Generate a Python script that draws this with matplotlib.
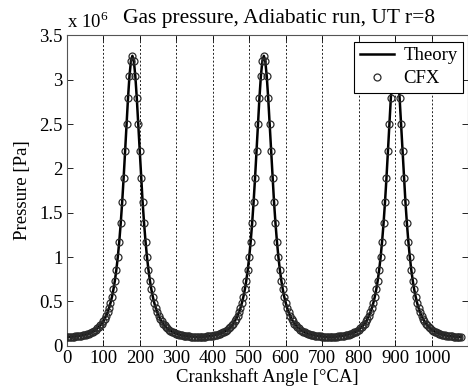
import numpy as np
import matplotlib

matplotlib.use("Agg")
import matplotlib.pyplot as plt

plt.rcParams["font.family"] = ["Liberation Serif", "DejaVu Serif"]
plt.rcParams["mathtext.fontset"] = "custom"
plt.rcParams["mathtext.rm"] = "Liberation Serif"

# crank angle grid of one cycle [deg CA], 4 deg step
cycle_angle = np.arange(0, 360, 4)
# gas pressure over one cycle, units of 1e6 Pa
cycle_pressure = [
    0.100, 0.1001, 0.1005, 0.101, 0.102, 0.103, 0.105, 0.107, 0.109, 0.111,
    0.114, 0.118, 0.122, 0.126, 0.131, 0.137, 0.144, 0.151, 0.160, 0.170,
    0.182, 0.195, 0.211, 0.229, 0.249, 0.274, 0.303, 0.337, 0.377, 0.425,
    0.482, 0.551, 0.634, 0.734, 0.855, 1.000, 1.174, 1.380, 1.620, 1.893,
    2.191, 2.500, 2.795, 3.043, 3.211, 3.270, 3.211, 3.043, 2.795, 2.500,
    2.191, 1.893, 1.620, 1.380, 1.174, 1.000, 0.855, 0.734, 0.634, 0.551,
    0.482, 0.425, 0.377, 0.337, 0.303, 0.274, 0.249, 0.229, 0.211, 0.195,
    0.182, 0.170, 0.160, 0.151, 0.144, 0.137, 0.131, 0.126, 0.122, 0.118,
    0.114, 0.111, 0.109, 0.107, 0.105, 0.103, 0.102, 0.101, 0.1005, 0.1001,
]
n_cycles = 3

angle = np.concatenate([cycle_angle + 360 * k for k in range(n_cycles)] + [[360 * n_cycles]])
p_theory = np.concatenate([cycle_pressure] * n_cycles + [cycle_pressure[:1]])
p_cfx = p_theory.copy()

xticks = np.arange(0, 1001, 100)
yticks = np.arange(0, 3.51, 0.5)
ytick_labels = ["0", "0.5", "1", "1.5", "2", "2.5", "3", "3.5"]

fig = plt.figure(figsize=(4.68, 3.91), dpi=100)
ax = fig.add_axes([0.1425, 0.1159, 0.858, 0.7934])

for x in xticks[1:]:
    ax.axvline(x, color="#222222", lw=0.7, ls=(0, (2, 2)), zorder=1)

ax.plot(angle, p_theory, color="black", lw=1.8, label="Theory", zorder=3)
ax.plot(angle, p_cfx, ls="none", marker="o", ms=5, mfc="none",
        mec="#2a2a2a", mew=0.9, label="CFX", zorder=4)

ax.set_xlim(0, 1100)
ax.set_ylim(0, 3.5)
ax.set_xticks(xticks)
ax.set_yticks(yticks)
ax.set_yticklabels(ytick_labels)
ax.tick_params(direction="in", length=4, width=0.6, labelsize=13.5,
               top=True, right=True, pad=3)
for s in ax.spines.values():
    s.set_linewidth(0.8)
    s.set_color("#555555")

ax.set_xlabel("Crankshaft Angle [°CA]", fontsize=13.5, labelpad=1)
ax.set_ylabel("Pressure [Pa]", fontsize=13.5, labelpad=6)
ax.text(0.53, 1.039, "Gas pressure, Adiabatic run, UT r=8", transform=ax.transAxes,
        ha="center", va="baseline", fontsize=15.5)
ax.text(0.0, 1.01, r"x 10$^{\mathrm{6}}$", transform=ax.transAxes,
        ha="left", va="bottom", fontsize=13.5)

leg = ax.legend(loc="upper right", bbox_to_anchor=(0.987, 0.98),
                borderaxespad=0, fancybox=False, framealpha=1,
                edgecolor="black", fontsize=13.5, handlelength=1.8,
                borderpad=0.3, labelspacing=0.3, handletextpad=0.5)
leg.get_frame().set_linewidth(0.8)

fig.savefig("out.png", dpi=100)
